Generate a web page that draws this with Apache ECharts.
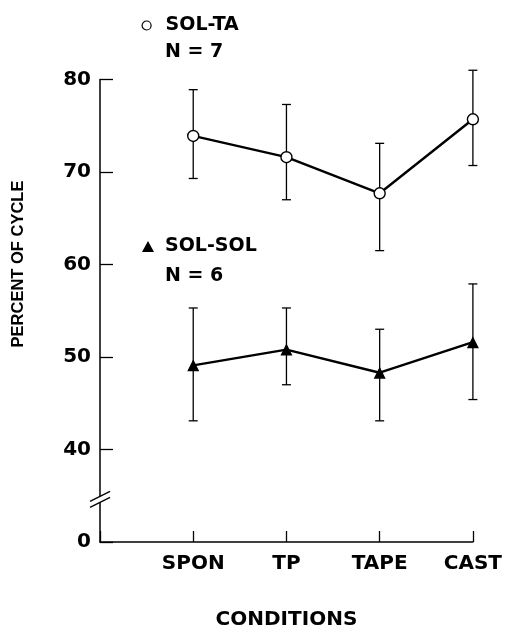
<!DOCTYPE html>
<html>
<head>
<meta charset="utf-8">
<script src="https://cdn.jsdelivr.net/npm/echarts@6/dist/echarts.min.js"></script>
<style>html,body{margin:0;padding:0;background:#fff;}#c{width:505px;height:635px;}</style>
</head>
<body>
<div id="c"></div>
<script>
// ---- data ----
const categories = ['SPON', 'TP', 'TAPE', 'CAST'];
const solTaMean = [73.9, 71.6, 67.7, 75.7];
const solTaLow  = [69.3, 67.0, 61.5, 70.7];
const solTaHigh = [78.9, 77.3, 73.1, 81.0];
const solSolMean = [49.1, 50.8, 48.3, 51.6];
const solSolLow  = [43.1, 47.0, 43.1, 45.4];
const solSolHigh = [55.3, 55.3, 53.0, 57.9];
const yTickValues = [30, 40, 50, 60, 70, 80];
const yTickLabels = ['0', '40', '50', '60', '70', '80'];
const breakValue = 34.6;

const FONT = 'DejaVu Sans';
const chart = echarts.init(document.getElementById('c'), null, {renderer: 'canvas'});

function pts(mean) { return mean.map((v, i) => [i + 1, v]); }
function bars(lo, hi) { return lo.map((v, i) => [i + 1, v, hi[i]]); }

function errRender(params, api) {
  const x = api.value(0);
  const p1 = api.coord([x, api.value(1)]);
  const p2 = api.coord([x, api.value(2)]);
  const w = 4.5;
  const st = {stroke: '#000', lineWidth: 1.3};
  return {type: 'group', children: [
    {type: 'line', shape: {x1: p1[0], y1: p1[1], x2: p2[0], y2: p2[1]}, style: st},
    {type: 'line', shape: {x1: p1[0] - w, y1: p1[1], x2: p1[0] + w, y2: p1[1]}, style: st},
    {type: 'line', shape: {x1: p2[0] - w, y1: p2[1], x2: p2[0] + w, y2: p2[1]}, style: st}
  ]};
}

const labelStyle = {fontFamily: FONT, fontWeight: 'bold', fontSize: 20, color: '#000'};

chart.setOption({
  animation: false,
  backgroundColor: '#fff',
  grid: {left: 100, right: 29, top: 79.5, bottom: 91, containLabel: false},
  legend: [
    {data: [{name: 'SOL-TA', icon: 'circle', itemStyle: {color: '#fff', borderColor: '#000', borderWidth: 1.2}}],
     left: 141.5, top: 16, padding: 0, itemWidth: 9, itemHeight: 9, selectedMode: false,
     textStyle: {fontFamily: FONT, fontWeight: 'bold', fontSize: 19, color: '#000', padding: [0, 0, 0, 9.5]}},
    {data: [{name: 'SOL-SOL', icon: 'triangle', itemStyle: {color: '#000'}}],
     left: 142, top: 237, padding: 0, itemWidth: 12, itemHeight: 11, selectedMode: false,
     textStyle: {fontFamily: FONT, fontWeight: 'bold', fontSize: 19, color: '#000', padding: [0, 0, 0, 6]}}
  ],
  xAxis: {
    type: 'value', min: 0, max: 4, interval: 1,
    name: 'CONDITIONS', nameLocation: 'middle', nameGap: 68,
    nameTextStyle: {fontFamily: FONT, fontWeight: 'bold', fontSize: 20, color: '#000'},
    axisLine: {lineStyle: {color: '#000', width: 1.5}},
    axisTick: {inside: true, length: 11, lineStyle: {color: '#000', width: 1.3}},
    axisLabel: Object.assign({margin: 12, formatter: v => categories[v - 1] || ''}, labelStyle),
    splitLine: {show: false}
  },
  yAxis: {
    type: 'value', min: 30, max: 80, interval: 10,
    axisLine: {show: true, lineStyle: {color: '#000', width: 1.5}},
    axisTick: {show: true, inside: true, length: 13, lineStyle: {color: '#000', width: 1.3}},
    axisLabel: Object.assign({margin: 9, formatter: v => {
      const i = yTickValues.indexOf(v); return i >= 0 ? yTickLabels[i] : '';
    }}, labelStyle),
    splitLine: {show: false}
  },
  series: [
    {type: 'custom', name: 'SOL-TA err', renderItem: errRender, data: bars(solTaLow, solTaHigh),
     encode: {x: 0, y: [1, 2]}, z: 1, silent: true},
    {type: 'custom', name: 'SOL-SOL err', renderItem: errRender, data: bars(solSolLow, solSolHigh),
     encode: {x: 0, y: [1, 2]}, z: 1, silent: true},
    {type: 'line', name: 'SOL-TA', data: pts(solTaMean), symbol: 'circle', symbolSize: 11,
     lineStyle: {color: '#000', width: 2.4}, itemStyle: {color: '#fff', borderColor: '#000', borderWidth: 1.4}, z: 3},
    {type: 'line', name: 'SOL-SOL', data: pts(solSolMean), symbol: 'triangle', symbolSize: 12,
     lineStyle: {color: '#000', width: 2.4}, itemStyle: {color: '#000'}, z: 3}
  ]
});

const bp = chart.convertToPixel({gridIndex: 0}, [0, breakValue]);
const bx = bp[0], by = bp[1];
chart.setOption({
  graphic: [
    {type: 'text', x: 165, y: 52, z: 10,
     style: {text: 'N = 7', fontFamily: FONT, fontWeight: 'bold', fontSize: 19, fill: '#000', align: 'left', verticalAlign: 'middle'}},
    {type: 'text', x: 165, y: 276, z: 10,
     style: {text: 'N = 6', fontFamily: FONT, fontWeight: 'bold', fontSize: 19, fill: '#000', align: 'left', verticalAlign: 'middle'}},
    {type: 'text', x: 18, y: 264, rotation: Math.PI / 2, z: 10,
     style: {text: 'PERCENT OF CYCLE', fontFamily: 'Liberation Sans', fontWeight: 'bold', fontSize: 16.5, fill: '#000', align: 'center', verticalAlign: 'middle'}},
    {type: 'rect', z: 10, shape: {x: bx - 2, y: by - 3, width: 4, height: 6}, style: {fill: '#fff'}},
    {type: 'line', z: 11, shape: {x1: bx - 10, y1: by + 2, x2: bx + 10, y2: by - 8}, style: {stroke: '#000', lineWidth: 1.3}},
    {type: 'line', z: 11, shape: {x1: bx - 10, y1: by + 8, x2: bx + 10, y2: by - 2}, style: {stroke: '#000', lineWidth: 1.3}}
  ]
});
</script>
</body>
</html>
